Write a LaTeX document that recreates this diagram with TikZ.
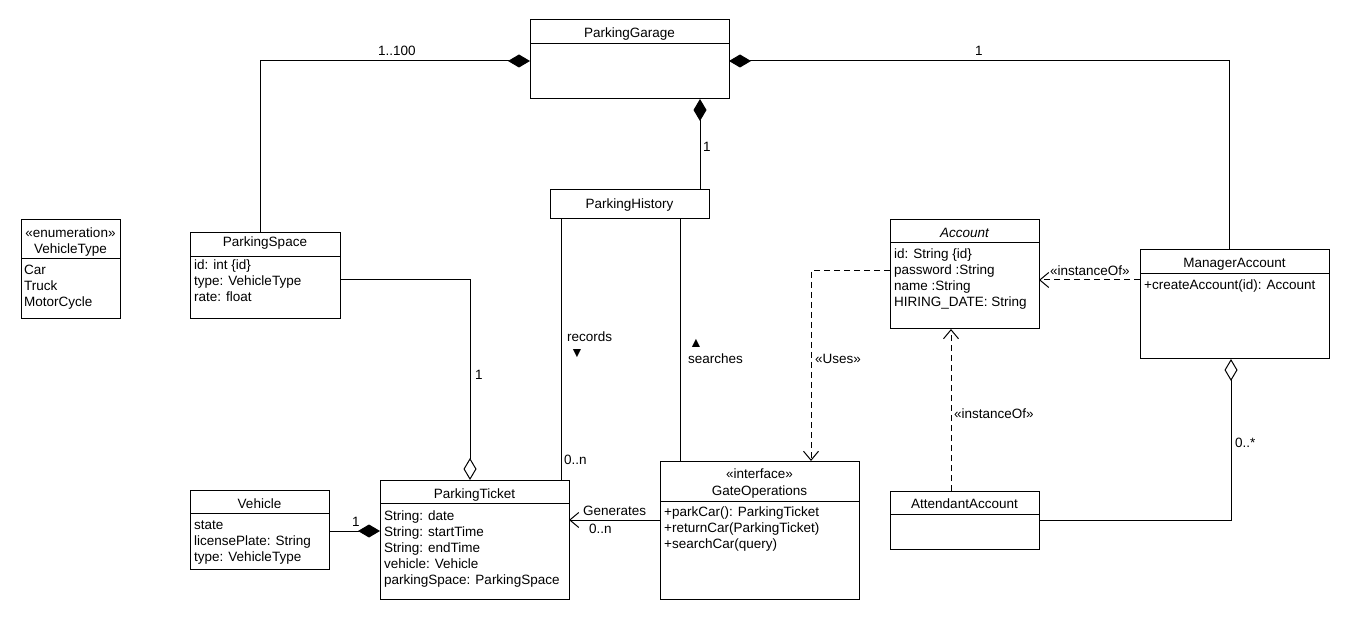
\documentclass[tikz,border=0pt]{standalone}
\usepackage{fontspec}
\setmainfont{Liberation Sans}
\usetikzlibrary{arrows.meta}
\begin{document}
\begin{tikzpicture}[x=1pt,y=-1pt,
  every node/.style={font=\fontsize{13.5}{16}\selectfont},
  line/.style={line width=1pt},
  box/.style={draw, line width=1pt, anchor=north west, inner sep=0pt, outer sep=0pt},
  title/.style={anchor=base, inner sep=0pt},
  attr/.style={anchor=base west, inner sep=0pt},
  lbl/.style={anchor=base west, inner sep=0pt},
  tri/.style={anchor=base west, inner sep=0pt, font=\fontsize{14}{14}\selectfont},
  compo/.style={line, -{Diamond[length=22pt,width=13pt]}},
  aggr/.style={line, -{Diamond[open,length=22pt,width=13pt]}},
  navi/.style={line, -{Straight Barb[length=9pt,width=15pt]}},
  dep/.style={line, dash pattern=on 6pt off 4pt, -{Straight Barb[length=9pt,width=15pt]}},
]
\useasboundingbox (0,0) rectangle (1350,620);
\fill[white] (0,0) rectangle (1350,620);

% ---------- classes ----------
% ParkingGarage
\node[box, minimum width=199pt, minimum height=79pt] (pg) at (530,20) {};
\draw[line] (pg.north west) ++(0,24) -- +(199,0);
\node[title] (pgT) at (629.5,38) {ParkingGarage};

% VehicleType enumeration
\node[box, minimum width=99pt, minimum height=99pt] (vt) at (21,220) {};
\draw[line] (vt.north west) ++(0,39) -- +(99,0);
\node[title] (vtS) at (70.5,238) {«enumeration»};
\node[title] (vtT) at (70.5,254) {VehicleType};
\node[attr] (vt1) at (24,275) {Car};
\node[attr] (vt2) at (24,291) {Truck};
\node[attr] (vt3) at (24,307) {MotorCycle};

% ParkingSpace
\node[box, minimum width=150pt, minimum height=86pt] (ps) at (190,233) {};
\draw[line] (ps.north west) ++(0,24) -- +(150,0);
\node[title] (psT) at (265,247) {ParkingSpace};
\node[attr] (ps1) at (194,270) {id: int \{id\}};
\node[attr] (ps2) at (194,286) {type: VehicleType};
\node[attr] (ps3) at (194,302) {rate: float};

% ParkingHistory
\node[box, minimum width=159pt, minimum height=29pt] (ph) at (550,190) {};
\node[title] (phT) at (629.5,209) {ParkingHistory};

% Account (abstract)
\node[box, minimum width=149pt, minimum height=109pt] (ac) at (890,220) {};
\draw[line] (ac.north west) ++(0,23) -- +(149,0);
\node[title] (acT) at (964.5,238) {\itshape Account};
\node[attr] (ac1) at (894,259) {id: String \{id\}};
\node[attr] (ac2) at (894,275) {password :String};
\node[attr] (ac3) at (894,291) {name :String};
\node[attr] (ac4) at (894,307) {HIRING\_DATE: String};

% ManagerAccount
\node[box, minimum width=189pt, minimum height=109pt] (ma) at (1140,250) {};
\draw[line] (ma.north west) ++(0,24) -- +(189,0);
\node[title] (maT) at (1234.5,268) {ManagerAccount};
\node[attr] (ma1) at (1144,290) {+createAccount(id): Account};

% Vehicle
\node[box, minimum width=139pt, minimum height=79pt] (ve) at (190,490) {};
\draw[line] (ve.north west) ++(0,23) -- +(139,0);
\node[title] (veT) at (259.5,508) {Vehicle};
\node[attr] (ve1) at (194,529) {state};
\node[attr] (ve2) at (194,545) {licensePlate: String};
\node[attr] (ve3) at (194,561) {type: VehicleType};

% ParkingTicket
\node[box, minimum width=189pt, minimum height=119pt] (pt) at (380,480) {};
\draw[line] (pt.north west) ++(0,23) -- +(189,0);
\node[title] (ptT) at (474.5,498) {ParkingTicket};
\node[attr] (pt1) at (384,520) {String: date};
\node[attr] (pt2) at (384,536) {String: startTime};
\node[attr] (pt3) at (384,552) {String: endTime};
\node[attr] (pt4) at (384,568) {vehicle: Vehicle};
\node[attr] (pt5) at (384,584) {parkingSpace: ParkingSpace};

% GateOperations interface
\node[box, minimum width=199pt, minimum height=138pt] (go) at (660,461) {};
\draw[line] (go.north west) ++(0,40) -- +(199,0);
\node[title] (goS) at (759.5,478) {«interface»};
\node[title] (goT) at (759.5,495) {GateOperations};
\node[attr] (go1) at (664,516) {+parkCar(): ParkingTicket};
\node[attr] (go2) at (664,532) {+returnCar(ParkingTicket)};
\node[attr] (go3) at (664,548) {+searchCar(query)};

% AttendantAccount
\node[box, minimum width=149pt, minimum height=58pt] (aa) at (890,491) {};
\draw[line] (aa.north west) ++(0,23) -- +(149,0);
\node[title] (aaT) at (964.5,508) {AttendantAccount};

% ---------- connector end points ----------
\coordinate (psTop)  at ([xshift=-5pt]ps.north);
\coordinate (pgW)    at ([yshift=-1.5pt]pg.west);
\coordinate (pgE)    at ([yshift=-1.5pt]pg.east);
\coordinate (maTop)  at ([xshift=-5.5pt]ma.north);
\coordinate (pgBot)  at ([xshift=70.5pt]pg.south);
\coordinate (phTop)  at ([xshift=70.5pt]ph.north);
\coordinate (phBotL) at ([xshift=-68.5pt]ph.south);
\coordinate (phBotR) at ([xshift=50.5pt]ph.south);
\coordinate (psE)    at ([yshift=-4pt]ps.east);
\coordinate (ptTop)  at ([xshift=-4.5pt]pt.north);
\coordinate (veE)    at ([yshift=-1.5pt]ve.east);
\coordinate (goW)    at ([yshift=10pt]go.west);
\coordinate (acW)    at ([yshift=3.5pt]ac.west);
\coordinate (goTop)  at ([xshift=51.5pt]go.north);
\coordinate (maW)    at ([yshift=24.5pt]ma.west);
\coordinate (aaTop)  at ([xshift=-13.5pt]aa.north);
\coordinate (maBot)  at ([xshift=-3.5pt]ma.south);

% ---------- connectors ----------
\draw[compo] (psTop) |- (pgW);
\draw[compo] (maTop) |- (pgE);
\draw[compo] (phTop) -- (pgBot);
\draw[line] (phBotL) -- (phBotL |- pt.north);
\draw[line] (phBotR) -- (phBotR |- go.north);
\draw[aggr] (psE) -| (ptTop);
\draw[compo] (veE) -- (veE -| pt.west);
\draw[navi] (goW) -- (goW -| pt.east);
\draw[dep] (acW) -| (goTop);
\draw[dep] (maW) -- (maW -| ac.east);
\draw[dep] (aaTop) -- (aaTop |- ac.south);
\draw[aggr] (aa.east) -| (maBot);

% ---------- connector labels ----------
\node[lbl] (l1) at (378,56) {1..100};
\node[lbl] (l2) at (975,56) {1};
\node[lbl] (l3) at (703,152) {1};
\node[lbl] (l4) at (567,342) {records};
\node[tri] (l5) at (570,358) {▼};
\node[lbl] (l6) at (564,464) {0..n};
\node[tri] (l7) at (689,348) {▲};
\node[lbl] (l8) at (688,363) {searches};
\node[lbl] (l9) at (475,380) {1};
\node[lbl] (l10) at (352,526) {1};
\node[lbl] (l11) at (583,515) {Generates};
\node[lbl] (l12) at (589,533) {0..n};
\node[lbl] (l13) at (815,364) {«Uses»};
\node[lbl] (l14) at (1050,276) {«instanceOf»};
\node[lbl] (l15) at (954,418) {«instanceOf»};
\node[lbl] (l16) at (1235,447) {0..*};
\end{tikzpicture}
\end{document}
